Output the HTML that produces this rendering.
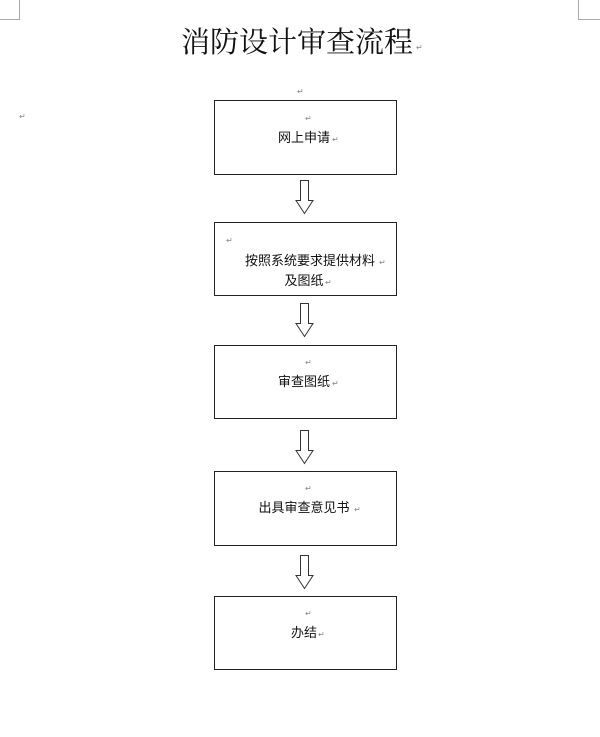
<!DOCTYPE html>
<html><head><meta charset="utf-8"><style>
body{margin:0;background:#fff;}
svg{display:block}
.t{font-family:"Liberation Sans","Noto Sans CJK SC",sans-serif;font-size:13px;fill:#111}
.m{font-family:"Liberation Sans",sans-serif;font-size:8px;fill:#888}
</style></head><body>
<svg width="600" height="737" xmlns="http://www.w3.org/2000/svg">
<path d="M0 19.5H19.5V0" stroke="#aaa" fill="none"/>
<path d="M600 19.5H578.5V0" stroke="#aaa" fill="none"/>
<text x="297" y="52" text-anchor="middle" font-family="'Noto Serif CJK SC',serif" font-size="29" fill="#111">消防设计审查流程</text>
<text x="416" y="50" class="m">↵</text>
<text x="297" y="94" class="m">↵</text>
<text x="19" y="119" class="m">↵</text>
<g fill="none" stroke="#222" stroke-width="1">
<rect x="214.5" y="100.5" width="182" height="74"/>
<rect x="214.5" y="222.5" width="182" height="73"/>
<rect x="214.5" y="345.5" width="182" height="73"/>
<rect x="214.5" y="471.5" width="182" height="74"/>
<rect x="214.5" y="596.5" width="182" height="73"/>
</g>
<g fill="#fff" stroke="#333" stroke-width="1">
<path d="M300.5 180.5h8v20h4.5l-8.5 13l-8.5-13h4.5z"/>
<path d="M300.5 303.5h8v20h4.5l-8.5 13l-8.5-13h4.5z"/>
<path d="M300.5 430.5h8v20h4.5l-8.5 13l-8.5-13h4.5z"/>
<path d="M300.5 555.5h8v20h4.5l-8.5 13l-8.5-13h4.5z"/>
</g>
<text x="305" y="121" class="m">↵</text>
<text x="304" y="142" class="t" text-anchor="middle">网上申请</text><text x="332" y="142" class="m">↵</text>
<text x="226" y="243" class="m">↵</text>
<text x="310" y="265" class="t" text-anchor="middle">按照系统要求提供材料</text><text x="379" y="265" class="m">↵</text>
<text x="304" y="285" class="t" text-anchor="middle">及图纸</text><text x="325" y="285" class="m">↵</text>
<text x="305" y="365" class="m">↵</text>
<text x="304" y="386" class="t" text-anchor="middle">审查图纸</text><text x="332" y="386" class="m">↵</text>
<text x="305" y="491" class="m">↵</text>
<text x="304" y="512" class="t" text-anchor="middle">出具审查意见书</text><text x="354" y="512" class="m">↵</text>
<text x="305" y="616" class="m">↵</text>
<text x="304" y="637" class="t" text-anchor="middle">办结</text><text x="318" y="637" class="m">↵</text>
</svg>
</body></html>
